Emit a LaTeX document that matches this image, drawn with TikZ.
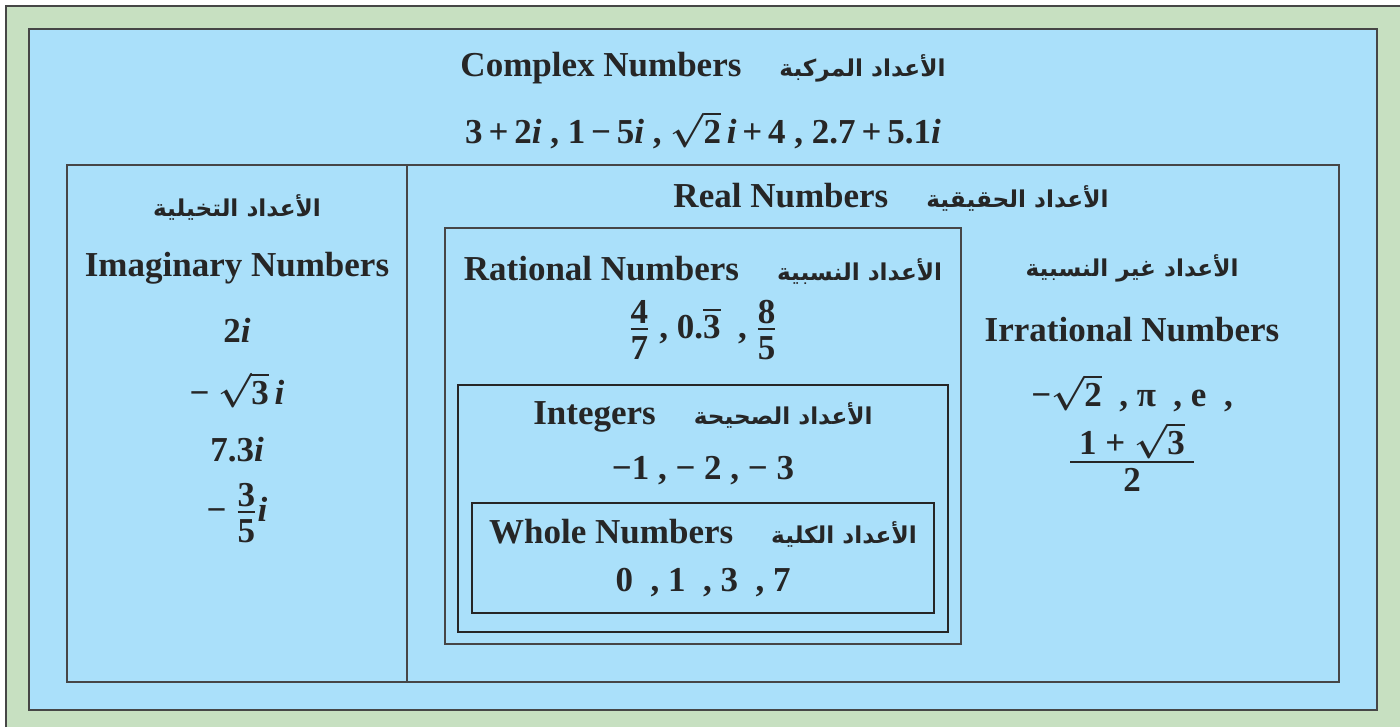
\documentclass[tikz,border=0pt]{standalone}
\usepackage{amsmath}
\usepackage{fontspec}
\setmainfont{Liberation Serif}
\newfontfamily\arabicfont[Script=Arabic]{DejaVu Sans}
\TeXXeTstate=1
\usetikzlibrary{positioning}
\definecolor{framegreen}{RGB}{199, 224, 193}
\definecolor{setblue}{RGB}{170, 224, 250}
\definecolor{edgegray}{RGB}{70, 70, 70}
\newcommand{\hfont}{\fontsize{17.5}{21}\selectfont\bfseries\boldmath}
\newcommand{\arfont}{\arabicfont\fontsize{11.6}{16}\selectfont\bfseries}
\newcommand{\gap}{\hspace{19pt}}
\newcommand{\ii}{\textit{i}}
\newcommand{\rt}[1]{$\sqrt{\text{#1}}$}
\newcommand{\fr}[2]{$\genfrac{}{}{1pt}{1}{\mbox{\rule[-1.5pt]{0pt}{1pt}#1}}{\mbox{\rule{0pt}{13.5pt}#2}}$}

\begin{document}
\begin{tikzpicture}[
		x=0.5pt, y=-0.5pt,
		label/.style={inner sep=0pt, font=\hfont, text=black!85},
		outerset/.style={draw=edgegray, line width=1.2pt},
		midset/.style={draw=edgegray, line width=0.8pt},
		innerset/.style={draw=black!85, line width=1pt}
		]
		\useasboundingbox (0,0) rectangle (1400,727);
		% frame and complex numbers
		\fill[framegreen] (6,6) rectangle (1400,727);
		\draw[edgegray, line width=1pt] (6,727) -- (6,6) -- (1400,6);
		\filldraw[fill=setblue, outerset] (29,29) rectangle (1377,710);
		\node[label] (cplxhead) at (703,68) {Complex Numbers\gap{\arfont\beginR الأعداد المركبة\endR}};
		\node[label] (cplxex) at (703,130)
		{3\,+\,2\ii\ , 1\,−\,5\ii\ , \rt{2}\,\ii\,+\,4\ , 2.7\,+\,5.1\ii};
		% imaginary and real
		\draw[midset] (67,165) rectangle (1339,682);
		\draw[midset] (407,165) -- (407,682);
		\node[label] (imagar) at (237,207) {\arfont\beginR الأعداد التخيلية\endR};
		\node[label] (imaghead) at (237,268) {Imaginary Numbers};
		\node[label] (imag1) at (237,330) {2\ii};
		\node[label] (imag2) at (237,390) {− \rt{3}\,\ii};
		\node[label] (imag3) at (237,450) {7.3\ii};
		\node[label] (imag4) at (237,513) {−\ \fr{3}{5}\ii};
		\node[label] (realhead) at (891,197) {Real Numbers\gap{\arfont\beginR الأعداد الحقيقية\endR}};
		% rational
		\draw[midset] (445,228) rectangle (961,644);
		\node[label] (rathead) at (703,270) {Rational Numbers\gap{\arfont\beginR الأعداد النسبية\endR}};
		\node[label] (ratex) at (703,330) {\fr{4}{7}\ , 0.$\overline{\text{3}}$\ \ ,\ \fr{8}{5}};
		% irrational
		\node[label] (irrar) at (1132,268) {\arfont\beginR الأعداد غير النسبية\endR};
		\node[label] (irrhead) at (1132,330) {Irrational Numbers};
		\node[label] (irrex) at (1132,393) {−\rt{2}\ \ , π\ \ , e\ \ ,};
		\node[label] (irrfrac) at (1132,457) {\fr{\ 1 + \rt{3}\ }{2}};
		% integers and whole numbers
		\draw[innerset] (458,385) rectangle (948,632);
		\node[label] (inthead) at (703,417) {Integers\gap{\arfont\beginR الأعداد الصحيحة\endR}};
		\node[label] (intex) at (703,471) {−1 , − 2 , − 3};
		\draw[innerset] (472,503) rectangle (934,613);
		\node[label] (wholehead) at (703,533) {Whole Numbers\gap{\arfont\beginR الأعداد الكلية\endR}};
		\node[label] (wholeex) at (703,583) {0\ \ ,\ 1\ \ ,\ 3\ \ ,\ 7};
	\end{tikzpicture}
\end{document}
